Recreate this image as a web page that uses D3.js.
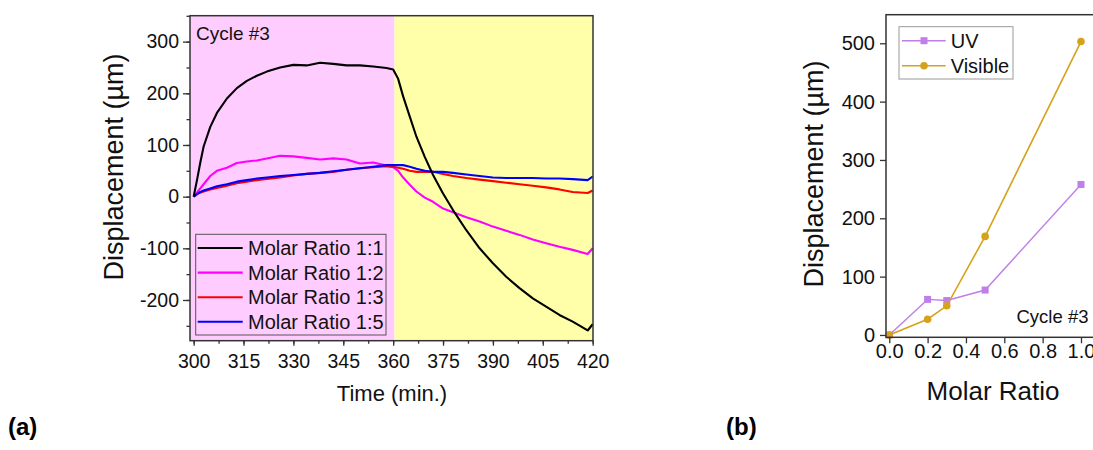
<!DOCTYPE html>
<html>
<head>
<meta charset="utf-8">
<script src="https://cdn.jsdelivr.net/npm/d3@7"></script>
<style>
  body { margin: 0; background: #fff; }
  svg { display: block; font-family: "Liberation Sans", Arial, sans-serif; }
</style>
</head>
<body>
<div id="chart"></div>
<script>
// ---- panel (a): displacement vs time, cycle #3 ----
const times = [300, 301, 302, 303, 305, 307, 310, 313, 316, 319, 322, 326, 330, 334, 338, 342, 346, 350, 354, 358,
  360, 361.5, 363, 365, 367, 369.5, 372, 375, 378, 382, 386, 390, 394, 398, 402, 406, 410, 414, 418.5, 420];
const ratio11 = [0, 32, 66, 97, 135, 162, 190, 210, 224, 234, 242, 250, 255, 254, 259, 257, 254, 254, 252, 249,
  246, 228, 194, 155, 116, 77, 42, 6, -26, -65, -100, -129, -155, -177, -197, -213, -229, -242, -259, -247];
const ratio12 = [0, 8, 16, 24, 40, 50, 56, 65, 68, 70, 74, 79, 78, 75, 72, 74, 72, 64, 66, 60,
  57, 50, 37, 23, 10, -2, -10, -23, -30, -40, -48, -58, -66, -74, -83, -90, -97, -103, -111, -100];
const ratio13 = [0, 5, 8, 10, 14, 17, 21, 26, 29, 32, 34, 37, 41, 44, 46, 48, 52, 55, 57, 59,
  58, 56, 54, 50, 48, 48, 48, 44, 40, 36, 33, 30, 27, 24, 21, 18, 14, 9, 7, 12];
const ratio15 = [0, 5, 9, 12, 16, 20, 24, 29, 32, 35, 37, 40, 42, 44, 46, 49, 52, 55, 58, 61,
  61, 61, 61, 58, 54, 50, 48, 48, 46, 43, 40, 37, 36, 36, 36, 35, 35, 34, 32, 39];
const seriesNames = ["Molar Ratio 1:1", "Molar Ratio 1:2", "Molar Ratio 1:3", "Molar Ratio 1:5"];
const seriesColors = ["#000000", "#ff00ff", "#ff0000", "#0000ff"];
const lightSwitch = 360.4; // UV -> visible
const timeTicks = [300, 315, 330, 345, 360, 375, 390, 405, 420];
const dispTicks = [-200, -100, 0, 100, 200, 300];

// ---- panel (b): displacement vs molar ratio ----
const molarRatio = [0, 0.2, 0.3, 0.5, 1.0];
const uvDisp = [0, 61, 59, 77, 258];
const visDisp = [0, 27, 50, 169, 503];
const ratioTicks = [0, 0.2, 0.4, 0.6, 0.8, 1.0];
const dispTicksB = [0, 100, 200, 300, 400, 500];

const W = 1093, H = 450;
const axisColor = "#333";
const svg = d3.select("#chart").append("svg").attr("width", W).attr("height", H);
const plainInt = d => String(d); // hyphen minus, like the original

function styleAxis(g, fontSize) {
  g.select(".domain").remove();
  g.selectAll(".tick line").attr("stroke", axisColor).attr("stroke-width", 1.3);
  g.selectAll(".tick text").attr("fill", "#111").attr("font-size", fontSize)
    .attr("font-family", "'Liberation Sans', Arial, sans-serif");
}

// ================= panel (a) =================
{
  const x = d3.scaleLinear().domain([298.9, 420.1]).range([190, 593]);
  const y = d3.scaleLinear().domain([-278.8, 350.2]).range([340.7, 15.7]);
  const g = svg.append("g");

  g.append("rect").attr("x", x.range()[0]).attr("y", y.range()[1])
    .attr("width", x(lightSwitch) - x.range()[0]).attr("height", y.range()[0] - y.range()[1])
    .attr("fill", "#ffccff");
  g.append("rect").attr("x", x(lightSwitch)).attr("y", y.range()[1])
    .attr("width", x.range()[1] - x(lightSwitch)).attr("height", y.range()[0] - y.range()[1])
    .attr("fill", "#ffffaa");

  const all = [ratio11, ratio12, ratio13, ratio15];
  const line = d3.line().x((d, i) => x(times[i])).y(d => y(d));
  [1, 2, 3, 0].forEach(k => {
    g.append("path").datum(all[k]).attr("d", line)
      .attr("fill", "none").attr("stroke", seriesColors[k]).attr("stroke-width", 2.1)
      .attr("stroke-linejoin", "round");
  });

  // minor ticks
  g.append("g").attr("transform", `translate(${x.range()[0]},0)`)
    .call(d3.axisLeft(y).tickValues(d3.range(-250, 351, 50)).tickSize(3.5).tickFormat(""))
    .call(a => styleAxis(a, 19));
  g.append("g").attr("transform", `translate(0,${y.range()[0]})`)
    .call(d3.axisBottom(x).tickValues(d3.range(300, 421, 7.5)).tickSize(3).tickFormat(""))
    .call(a => styleAxis(a, 19));
  // major ticks
  g.append("g").attr("transform", `translate(${x.range()[0]},0)`)
    .call(d3.axisLeft(y).tickValues(dispTicks).tickSize(7).tickPadding(4).tickFormat(plainInt))
    .call(a => styleAxis(a, 19.5));
  g.append("g").attr("transform", `translate(0,${y.range()[0]})`)
    .call(d3.axisBottom(x).tickValues(timeTicks).tickSize(5).tickPadding(8).tickFormat(plainInt))
    .call(a => styleAxis(a, 19.5));

  g.append("rect").attr("x", x.range()[0]).attr("y", y.range()[1])
    .attr("width", x.range()[1] - x.range()[0]).attr("height", y.range()[0] - y.range()[1])
    .attr("fill", "none").attr("stroke", axisColor).attr("stroke-width", 1.5);

  g.append("text").attr("x", 196).attr("y", 39.5).attr("font-size", 19).attr("fill", "#111").text("Cycle #3");

  // legend
  const lg = g.append("g");
  lg.append("rect").attr("x", 195.7).attr("y", 234.3).attr("width", 190.3).attr("height", 100.7)
    .attr("fill", "none").attr("stroke", "#555").attr("stroke-width", 1);
  seriesNames.forEach((name, i) => {
    const cy = 248 + i * 24.6;
    lg.append("line").attr("x1", 197.7).attr("x2", 242.7).attr("y1", cy).attr("y2", cy)
      .attr("stroke", seriesColors[i]).attr("stroke-width", 2.1);
    lg.append("text").attr("x", 248).attr("y", cy + 7).attr("font-size", 20).attr("fill", "#111").text(name);
  });

  g.append("text").attr("transform", "translate(123,167) rotate(-90)").attr("text-anchor", "middle")
    .attr("font-size", 27).attr("fill", "#111").text("Displacement (\u00b5m)");
  g.append("text").attr("x", 392).attr("y", 401).attr("text-anchor", "middle")
    .attr("font-size", 22).attr("fill", "#111").text("Time (min.)");
  g.append("text").attr("x", 8).attr("y", 435).attr("font-size", 24).attr("font-weight", "bold")
    .attr("fill", "#000").text("(a)");
}

// ================= panel (b) =================
{
  const x = d3.scaleLinear().domain([-0.017, 1.12]).range([886, 1104]);
  const y = d3.scaleLinear().domain([-4, 549]).range([337.3, 14.7]);
  const g = svg.append("g");
  const uvColor = "#c07fe8", visColor = "#d6a21c";

  const lineB = d3.line().x((d, i) => x(molarRatio[i])).y(d => y(d));
  g.append("path").datum(uvDisp).attr("d", lineB).attr("fill", "none")
    .attr("stroke", uvColor).attr("stroke-width", 1.4);
  g.append("path").datum(visDisp).attr("d", lineB).attr("fill", "none")
    .attr("stroke", visColor).attr("stroke-width", 1.6);
  g.selectAll(".sq").data(uvDisp).join("rect").attr("class", "sq")
    .attr("x", (d, i) => x(molarRatio[i]) - 3.5).attr("y", d => y(d) - 3.5)
    .attr("width", 7).attr("height", 7).attr("fill", uvColor);
  g.selectAll(".dot").data(visDisp).join("circle").attr("class", "dot")
    .attr("cx", (d, i) => x(molarRatio[i])).attr("cy", d => y(d)).attr("r", 3.8).attr("fill", visColor);

  g.append("g").attr("transform", `translate(${x.range()[0]},0)`)
    .call(d3.axisLeft(y).tickValues(dispTicksB).tickSize(6).tickPadding(5).tickFormat(plainInt))
    .call(a => styleAxis(a, 20));
  g.append("g").attr("transform", `translate(0,${y.range()[0]})`)
    .call(d3.axisBottom(x).tickValues(ratioTicks).tickSize(6).tickPadding(1).tickFormat(d3.format(".1f")))
    .call(a => styleAxis(a, 20));

  g.append("rect").attr("x", x.range()[0]).attr("y", y.range()[1])
    .attr("width", x.range()[1] - x.range()[0]).attr("height", y.range()[0] - y.range()[1])
    .attr("fill", "none").attr("stroke", axisColor).attr("stroke-width", 1.5);

  // legend
  const lg = g.append("g");
  lg.append("rect").attr("x", 899).attr("y", 26.7).attr("width", 114).attr("height", 52.3)
    .attr("fill", "#fff").attr("stroke", "#999").attr("stroke-width", 1);
  [["UV", uvColor, "sq"], ["Visible", visColor, "dot"]].forEach(([name, c, m], i) => {
    const cy = 40.7 + i * 25;
    lg.append("line").attr("x1", 902).attr("x2", 945.7).attr("y1", cy).attr("y2", cy)
      .attr("stroke", c).attr("stroke-width", 1.5);
    if (m === "sq") lg.append("rect").attr("x", 924 - 3.5).attr("y", cy - 3.5).attr("width", 7).attr("height", 7).attr("fill", c);
    else lg.append("circle").attr("cx", 924).attr("cy", cy).attr("r", 3.8).attr("fill", c);
    lg.append("text").attr("x", 950.7).attr("y", cy + 7.3).attr("font-size", 20).attr("fill", "#111").text(name);
  });

  g.append("text").attr("x", 1016.5).attr("y", 323.3).attr("font-size", 18.5).attr("fill", "#111").text("Cycle #3");
  g.append("text").attr("transform", "translate(823,174) rotate(-90)").attr("text-anchor", "middle")
    .attr("font-size", 27).attr("fill", "#111").text("Displacement (\u00b5m)");
  g.append("text").attr("x", 993).attr("y", 400).attr("text-anchor", "middle")
    .attr("font-size", 26).attr("fill", "#111").text("Molar Ratio");
  g.append("text").attr("x", 726).attr("y", 435).attr("font-size", 24).attr("font-weight", "bold")
    .attr("fill", "#000").text("(b)");
}
</script>
</body>
</html>
